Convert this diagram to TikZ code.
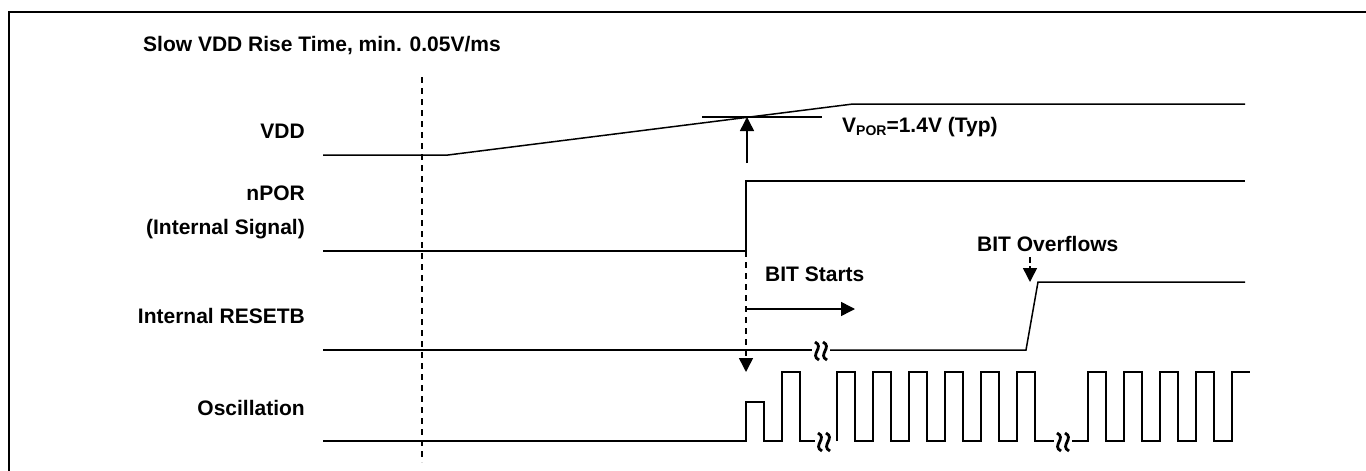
\documentclass[tikz,border=0pt]{standalone}
\usepackage{fontspec}
\setmainfont{Liberation Sans}
\usetikzlibrary{arrows.meta}
\begin{document}
\begin{tikzpicture}[x=1pt,y=-1pt,
  sig/.style={line width=1.5pt, line join=miter},
  lbl/.style={font=\fontsize{21}{25}\selectfont\bfseries, inner sep=0pt},
  tip/.style={-{Triangle[length=14pt,width=14pt]}},
  dsh/.style={line width=1.5pt, dash pattern=on 6pt off 5pt},
  brk/.style={line width=2.8pt}]
\useasboundingbox (0,0) rectangle (1366,471);
% frame
\draw[line width=2pt] (9,471) -- (9,12) -- (1366,12);
% labels
\node[lbl,anchor=base west] (title) at (143,51.5) {Slow VDD Rise Time, min. 0.05V/ms};
\node[lbl,anchor=base east] (lvdd) at (305,138.5) {VDD};
\node[lbl,anchor=base east] (lnpor) at (305,200.5) {nPOR};
\node[lbl,anchor=base east] (lint) at (305,234.5) {(Internal Signal)};
\node[lbl,anchor=base east] (lrst) at (305,323.5) {Internal RESETB};
\node[lbl,anchor=base east] (losc) at (305,415) {Oscillation};
\node[lbl,anchor=base west] (vpor) at (842,132.5) {V{\fontsize{14}{16}\selectfont\raisebox{-2.5pt}{POR}}=1.4V (Typ)};
\node[lbl,anchor=base west] (bits) at (765,281.5) {BIT Starts};
\node[lbl,anchor=base west] (bito) at (977,251) {BIT Overflows};
% dashed reference line
\coordinate (refT) at (422,77);
\coordinate (refB) at (422,462);
\draw[dsh] (refT) -- (refB);
% VDD
\draw[sig] (323,155) -- (448,155) -- (853,104) -- (1245,104);
\coordinate (tickL) at (702,117);
\coordinate (tickR) at (822,117);
\draw[sig] (tickL) -- (tickR);
\coordinate (upA) at (747,163);
\coordinate (upB) at (747,117);
\draw[sig,tip] (upA) -- (upB);
% nPOR
\draw[sig] (323,251) -- (746,251) -- (746,181) -- (1245,181);
\coordinate (dnA) at (746,251);
\coordinate (dnB) at (746,372);
\draw[dsh,tip] (dnA) -- (dnB);
% BIT starts arrow
\coordinate (bsA) at (746,309);
\coordinate (bsB) at (855,309);
\draw[sig,tip] (bsA) -- (bsB);
% BIT overflow arrow
\coordinate (boA) at (1030,257);
\coordinate (boM) at (1030,263);
\coordinate (boN) at (1030,266);
\coordinate (boB) at (1030,282);
\draw[line width=1.5pt] (boA) -- (boM);
\draw[sig,tip] (boN) -- (boB);
% RESETB
\draw[sig] (323,350) -- (812,350);
\draw[sig] (830,350) -- (1026,350) -- (1038,282) -- (1245,282);
% break symbols
\foreach \bx/\by in {817/351, 825/351, 820/442, 828/442, 1059/442, 1067/442}{
  \draw[brk] (\bx-2,\by-9) .. controls (\bx+8,\by-4) and (\bx-8,\by+4) .. (\bx+2,\by+9);
}
% Oscillation
\draw[sig] (323,441) -- (746,441) -- (746,402) -- (764,402) -- (764,441)
  -- (782,441) -- (782,372) -- (800,372) -- (800,441) -- (815,441);
\draw[sig] (837,441) -- (837,372) -- (855,372) -- (855,441)
  -- (873,441) -- (873,372) -- (891,372) -- (891,441)
  -- (909,441) -- (909,372) -- (927,372) -- (927,441)
  -- (945,441) -- (945,372) -- (963,372) -- (963,441)
  -- (981,441) -- (981,372) -- (999,372) -- (999,441)
  -- (1017,441) -- (1017,372) -- (1035,372) -- (1035,441) -- (1054,441);
\draw[sig] (1072,441) -- (1088,441) -- (1088,372) -- (1106,372) -- (1106,441)
  -- (1124,441) -- (1124,372) -- (1142,372) -- (1142,441)
  -- (1160,441) -- (1160,372) -- (1178,372) -- (1178,441)
  -- (1196,441) -- (1196,372) -- (1214,372) -- (1214,441)
  -- (1232,441) -- (1232,372) -- (1250,372);
\end{tikzpicture}
\end{document}
